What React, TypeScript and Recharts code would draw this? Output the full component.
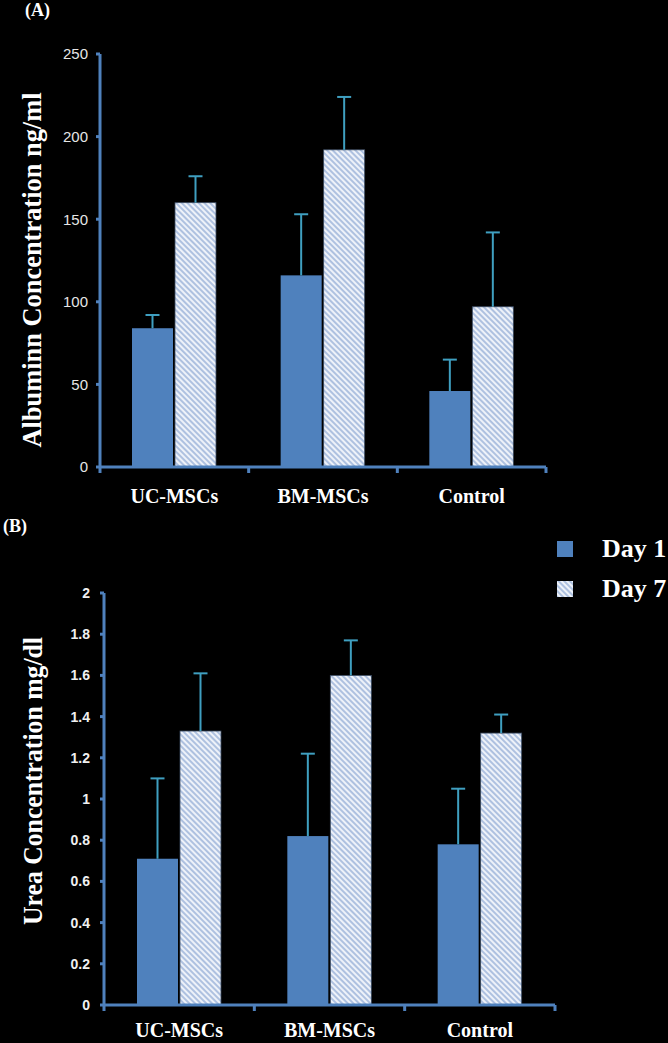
import { BarChart, Bar, XAxis, YAxis } from 'recharts';

const groups = ['UC-MSCs', 'BM-MSCs', 'Control'];

const albuminDay1 = [84, 116, 46];
const albuminDay1Top = [92, 153, 65];
const albuminDay7 = [160, 192, 97];
const albuminDay7Top = [176, 224, 142];
const albuminTicks = [0, 50, 100, 150, 200, 250];

const ureaDay1 = [0.71, 0.82, 0.78];
const ureaDay1Top = [1.1, 1.22, 1.05];
const ureaDay7 = [1.33, 1.6, 1.32];
const ureaDay7Top = [1.61, 1.77, 1.41];
const ureaTicks = [0, 0.2, 0.4, 0.6, 0.8, 1, 1.2, 1.4, 1.6, 1.8, 2];

const albuminData = groups.map((g, i) => ({
  group: g,
  day1: albuminDay1[i],
  day1Top: albuminDay1Top[i],
  day7: albuminDay7[i],
  day7Top: albuminDay7Top[i],
}));

const ureaData = groups.map((g, i) => ({
  group: g,
  day1: ureaDay1[i],
  day1Top: ureaDay1Top[i],
  day7: ureaDay7[i],
  day7Top: ureaDay7Top[i],
}));

const BLUE = '#4f81bd';
const ERR = '#3f9fc0';
const SERIF = '"Liberation Serif", "Times New Roman", serif';
const SANS = '"Liberation Sans", Arial, sans-serif';

function withError(valKey: string, topKey: string) {
  return (props: any) => {
    const { x, y, width, height, fill, stroke, payload } = props;
    const v = payload[valKey];
    const top = payload[topKey];
    const ey = v ? y + height - (top * height) / v : y;
    const cx = x + width / 2;
    return (
      <g>
        <rect x={x} y={y} width={width} height={height} fill={fill} stroke={stroke} strokeWidth={stroke ? 0.8 : 0} />
        <line x1={cx} x2={cx} y1={y} y2={ey} stroke={ERR} strokeWidth={2} />
        <line x1={cx - 7} x2={cx + 7} y1={ey} y2={ey} stroke={ERR} strokeWidth={2} />
      </g>
    );
  };
}

function categoryTick(band: number, count: number, dy: number) {
  return (props: any) => {
    const { x, y, payload, index } = props;
    return (
      <g>
        <line x1={x - band / 2} x2={x - band / 2} y1={y} y2={y + 6} stroke={BLUE} strokeWidth={3} />
        {index === count - 1 && (
          <line x1={x + band / 2} x2={x + band / 2} y1={y} y2={y + 6} stroke={BLUE} strokeWidth={3} />
        )}
        <text x={x} y={y + dy} textAnchor="middle" fill="#fff" fontFamily={SERIF} fontWeight="bold" fontSize={20}>
          {payload.value}
        </text>
      </g>
    );
  };
}

function yTitle(text: string, dx: number, centerY: number, length: number) {
  return (props: any) => {
    const { viewBox } = props;
    const cx = viewBox.x + dx;
    const cy = centerY;
    return (
      <text
        x={cx}
        y={cy}
        transform={`rotate(-90 ${cx} ${cy})`}
        textAnchor="middle"
        dominantBaseline="central"
        fill="#fff"
        fontFamily={SERIF}
        fontWeight="bold"
        fontSize={27}
        textLength={length}
        lengthAdjust="spacingAndGlyphs"
      >
        {text}
      </text>
    );
  };
}

function Hatch({ id }: { id: string }) {
  return (
    <defs>
      <pattern id={id} patternUnits="userSpaceOnUse" width={4} height={4} patternTransform="rotate(-45)">
        <rect width={4} height={4} fill="#eef2f9" />
        <line x1={1} y1={0} x2={1} y2={4} stroke="#93acd6" strokeWidth={1.4} />
      </pattern>
    </defs>
  );
}

function LegendBox() {
  const item = (label: string, fill: string) => (
    <div style={{ display: 'flex', alignItems: 'center', height: 40 }}>
      <svg width={16} height={16} style={{ marginRight: 29 }}>
        <rect width={16} height={16} fill={fill} />
      </svg>
      <span style={{ color: '#fff', fontFamily: SERIF, fontWeight: 'bold', fontSize: 26, whiteSpace: 'nowrap' }}>
        {label}
      </span>
    </div>
  );
  return (
    <div style={{ position: 'absolute', left: 557, top: 529 }}>
      {item('Day 1', BLUE)}
      {item('Day 7', 'url(#hatchB)')}
    </div>
  );
}

export default function App() {
  return (
    <div style={{ position: 'absolute', left: 0, top: 0, width: 668, height: 1043, background: '#000', overflow: 'hidden' }}>
      <div style={{ position: 'absolute', left: 25, top: 0, color: '#fff', fontFamily: SERIF, fontWeight: 'bold', fontSize: 18 }}>
        (A)
      </div>
      <div style={{ position: 'absolute', left: 3, top: 516, color: '#fff', fontFamily: SERIF, fontWeight: 'bold', fontSize: 18 }}>
        (B)
      </div>

      <div style={{ position: 'absolute', left: 0, top: 0 }}>
        <BarChart
          width={668}
          height={510}
          data={albuminData}
          margin={{ top: 54, right: 122, left: 0, bottom: 0 }}
          barCategoryGap={32}
          barGap={2}
        >
          <Hatch id="hatchA" />
          <XAxis
            dataKey="group"
            height={43}
            axisLine={{ stroke: BLUE, strokeWidth: 3 }}
            tickLine={false}
            tickSize={0}
            tickMargin={0}
            tick={categoryTick(446 / 3, 3, 36)}
            interval={0}
          />
          <YAxis
            width={100}
            domain={[0, 250]}
            ticks={albuminTicks}
            axisLine={{ stroke: BLUE, strokeWidth: 3 }}
            tickLine={{ stroke: BLUE, strokeWidth: 3 }}
            tickSize={4}
            tickMargin={8}
            tick={{ fill: '#e6e6e6', fontFamily: SANS, fontSize: 15 }}
            label={yTitle('Albuminn Concentration ng/ml', 32, 270, 355)}
          />
          <Bar dataKey="day1" fill={BLUE} isAnimationActive={false} shape={withError('day1', 'day1Top')} />
          <Bar dataKey="day7" fill="url(#hatchA)" stroke="#3a4a60" isAnimationActive={false} shape={withError('day7', 'day7Top')} />
        </BarChart>
      </div>

      <div style={{ position: 'absolute', left: 0, top: 510 }}>
        <BarChart
          width={668}
          height={533}
          data={ureaData}
          margin={{ top: 83, right: 113, left: 0, bottom: 0 }}
          barCategoryGap={33}
          barGap={2}
        >
          <Hatch id="hatchB" />
          <XAxis
            dataKey="group"
            height={38}
            axisLine={{ stroke: BLUE, strokeWidth: 3 }}
            tickLine={false}
            tickSize={0}
            tickMargin={0}
            tick={categoryTick(451 / 3, 3, 32)}
            interval={0}
          />
          <YAxis
            width={104}
            domain={[0, 2]}
            ticks={ureaTicks}
            axisLine={{ stroke: BLUE, strokeWidth: 3 }}
            tickLine={{ stroke: BLUE, strokeWidth: 3 }}
            tickSize={4}
            tickMargin={10}
            tick={{ fill: '#f0f0f0', fontFamily: SANS, fontWeight: 'bold', fontSize: 14 }}
            label={yTitle('Urea Concentration mg/dl', 33, 271, 288)}
          />
          <Bar dataKey="day1" fill={BLUE} isAnimationActive={false} shape={withError('day1', 'day1Top')} />
          <Bar dataKey="day7" fill="url(#hatchB)" stroke="#3a4a60" isAnimationActive={false} shape={withError('day7', 'day7Top')} />
        </BarChart>
      </div>

      <LegendBox />
    </div>
  );
}
